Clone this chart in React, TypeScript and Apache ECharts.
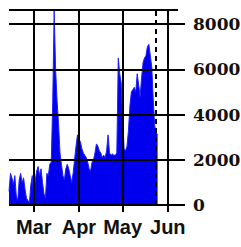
import React, { useEffect, useRef } from "react";
import * as echarts from "echarts";

const startDate = "2023-02-12";
const endDate = "2023-06-08";
// daily values from Feb 12 to May 24
const dailyValues = [
  600, 1400, 1200, 900, 1300, 400, 200, 1100, 1400, 1000,
  1200, 700, 300, 200, 100, 900, 1300, 300, 1100, 1500,
  1700, 1300, 1600, 1000, 500, 300, 1400, 1300, 1800, 1900,
  4500, 8600, 6000, 4600, 3600, 2300, 1800, 1300, 1100, 1600,
  1800, 1600, 1300, 1000, 1400, 2000, 2600, 3100, 2900, 2800,
  2500, 2300, 2200, 2100, 1900, 1600, 1500, 1900, 2000, 2300,
  2700, 2600, 2400, 2300, 2100, 2200, 2100, 2400, 3100, 2300,
  2200, 2250, 2200, 2200, 2300, 6500, 5800, 5400, 3800, 2500,
  2400, 2600, 3300, 4400, 5000, 5100, 5200, 5000, 5800, 5300,
  4800, 5600, 6300, 6500, 6600, 7000, 7100, 6600, 6100, 4700,
  3500, 3200, 3100,
];
const monthStarts = ["2023-03-01", "2023-04-01", "2023-05-01", "2023-06-01"];
const monthLabels = ["Mar", "Apr", "May", "Jun"];
const todayMarker = "2023-05-24";
const yMax = 8620;
const yInterval = 2000;

const DAY = 86400000;
const ts = (s: string) => Date.UTC(+s.slice(0, 4), +s.slice(5, 7) - 1, +s.slice(8, 10));
const iso = (t: number) => new Date(t).toISOString().slice(0, 10);

function buildDays(from: string, to: string) {
  const out: string[] = [];
  for (let t = ts(from); t <= ts(to); t += DAY) out.push(iso(t));
  return out;
}

export default function App() {
  const ref = useRef<HTMLDivElement>(null);
  useEffect(() => {
    if (!ref.current) return;
    const chart = echarts.init(ref.current, undefined, { renderer: "svg" });
    const days = buildDays(startDate, endDate);
    const isMonthStart = (_i: number, v: string) => monthStarts.indexOf(v) >= 0;
    chart.setOption({
      animation: false,
      grid: { left: 9, right: 63, top: 10, bottom: 42, containLabel: false, outerBoundsMode: "none" },
      xAxis: {
        type: "category",
        data: days,
        boundaryGap: false,
        z: 5,
        axisLine: { show: false },
        axisTick: { show: false },
        splitLine: { show: false },
        axisLabel: {
          margin: 12,
          interval: isMonthStart,
          color: "#111",
          fontFamily: "Liberation Sans",
          fontWeight: "bold",
          fontSize: 20,
          formatter: (v: string) => monthLabels[monthStarts.indexOf(v)] ?? "",
        },
      },
      yAxis: {
        type: "value",
        position: "right",
        min: 0,
        max: yMax,
        interval: yInterval,
        z: 5,
        axisLine: { show: false },
        axisTick: { show: true, length: 7, lineStyle: { color: "#000", width: 2 } },
        splitLine: { show: true, lineStyle: { color: "#000", width: 2 } },
        axisLabel: {
          margin: 15,
          color: "#111",
          fontFamily: "DejaVu Serif",
          fontWeight: "bold",
          fontSize: 17,
          showMaxLabel: false,
          formatter: (v: number) => String(v),
        },
      },
      series: [
        {
          type: "line",
          data: dailyValues,
          showSymbol: false,
          z: 2,
          lineStyle: { color: "#2020ff", width: 1 },
          areaStyle: { color: "#0000ee", opacity: 1 },
          markLine: {
            silent: true,
            symbol: "none",
            label: { show: false },
            lineStyle: { type: [5, 4], color: "#000", width: 2 },
            data: [{ xAxis: todayMarker }],
          },
        },
        {
          type: "custom",
          z: 6,
          silent: true,
          clip: false,
          data: monthStarts.map((d) => [d, yMax]),
          encode: { x: 0, y: 1 },
          renderItem: (_params: any, api: any) => {
            const bottom = api.coord([api.value(0), 0]);
            const top = api.coord([api.value(0), api.value(1)]);
            const x = Math.round(bottom[0]);
            return {
              type: "rect",
              shape: { x: x - 1, y: top[1], width: 2, height: bottom[1] - top[1] + 7 },
              style: { fill: "#000" },
            };
          },
        },
      ],
    });
    return () => chart.dispose();
  }, []);
  return <div ref={ref} style={{ position: "fixed", left: 0, top: 0, width: 241, height: 247, background: "#fff" }} />;
}
